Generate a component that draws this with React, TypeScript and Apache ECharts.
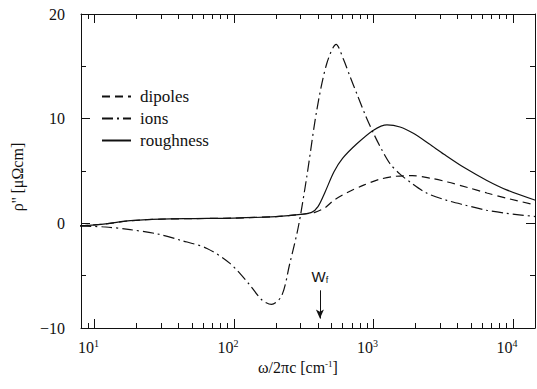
import React, { useEffect, useRef } from "react";
import * as echarts from "echarts";

// ---- data (frequency in cm^-1, rho'' in µΩcm) ----
const dipolesFreq = [7.9, 12, 18, 30, 50, 100, 200, 300, 380, 450, 520, 650, 850, 1100, 1450, 1900, 2600, 3400, 4800, 6500, 9000, 14500];
const dipolesVal = [-0.25, -0.05, 0.25, 0.4, 0.45, 0.5, 0.65, 0.85, 1.05, 1.5, 2.2, 2.95, 3.65, 4.2, 4.5, 4.55, 4.3, 3.95, 3.4, 2.9, 2.4, 1.75];

const ionsFreq = [7.9, 12, 18, 28, 41, 64, 94, 130, 158, 186, 220, 251, 289, 332, 392, 462, 540, 608, 680, 759, 870, 1000, 1150, 1313, 1550, 1828, 2400, 3350, 4500, 6460, 9000, 14500];
const ionsVal = [-0.25, -0.35, -0.6, -1.0, -1.6, -2.4, -3.85, -5.9, -7.3, -7.75, -6.9, -3.85, -0.35, 4.4, 10.8, 15.25, 17.1, 15.7, 14.0, 12.4, 10.4, 8.6, 7.0, 5.7, 4.7, 3.95, 2.9, 2.2, 1.75, 1.25, 0.95, 0.65];

const roughFreq = [7.9, 12, 18, 30, 50, 100, 200, 300, 360, 400, 450, 520, 600, 760, 1000, 1250, 1550, 1930, 2500, 3200, 4500, 6500, 9000, 14500];
const roughVal = [-0.25, -0.05, 0.25, 0.4, 0.45, 0.5, 0.65, 0.85, 1.05, 1.6, 3.0, 4.9, 6.2, 7.6, 8.9, 9.4, 9.2, 8.6, 7.6, 6.6, 5.3, 4.1, 3.2, 2.2];

const xDecades = [1, 2, 3, 4];
const yTicks = [-10, 0, 10, 20];
const wfFreq = [413];
const wfArrowY = [-6.4, -9.1];

const X_MIN = 0.903;
const X_MAX = 4.158;

const serif = "Liberation Serif";
const sans = "Liberation Sans";
const INK = "#111";

export default function App() {
  const ref = useRef<HTMLDivElement>(null);

  useEffect(() => {
    if (!ref.current) return;
    const chart = echarts.init(ref.current, null, { renderer: "svg" });

    const toData = (f: number[], v: number[]) => f.map((x, i) => [Math.log10(x), v[i]]);

    const minorVals: number[] = [];
    for (let n = 0; n <= 4; n++) {
      for (let k = 2; k <= 9; k++) {
        const lv = Math.log10(k * Math.pow(10, n));
        if (lv > X_MIN && lv < X_MAX) minorVals.push(lv);
      }
    }

    const grid = { left: 81, right: 2, top: 14, bottom: 61 };

    const xAxisDef = (gridIndex: number, position: string, values: number[], len: number, withLabel: boolean, withLine: boolean, extra: any = {}) => ({
      type: "value",
      gridIndex,
      position,
      min: X_MIN,
      max: X_MAX,
      axisLine: { show: withLine, onZero: false, lineStyle: { color: INK, width: 1 } },
      axisTick: { show: true, inside: true, length: len, customValues: values, lineStyle: { color: INK, width: 1 } },
      axisLabel: withLabel
        ? {
            show: true,
            customValues: values,
            margin: 10,
            padding: [0, 12, 0, 0],
            fontFamily: serif,
            formatter: (v: number) => `{a|10}{b|${Math.round(v)}}`,
            rich: {
              a: { fontFamily: serif, fontSize: 16, color: INK, lineHeight: 18 },
              b: { fontFamily: serif, fontSize: 10, color: INK, verticalAlign: "top", lineHeight: 10 },
            },
          }
        : { show: false },
      splitLine: { show: false },
      ...extra,
    });

    const yAxisDef = (gridIndex: number, position: string, withLabel: boolean, show = true) => ({
      type: "value",
      gridIndex,
      position,
      show,
      min: yTicks[0],
      max: yTicks[yTicks.length - 1],
      interval: 10,
      axisLine: { show: true, onZero: false, lineStyle: { color: INK, width: 1 } },
      axisTick: { show: true, inside: true, length: 9, lineStyle: { color: INK, width: 1 } },
      minorTick: { show: true, splitNumber: 2, length: 5, lineStyle: { color: INK, width: 1 } },
      axisLabel: withLabel
        ? { show: true, fontFamily: serif, fontSize: 16, color: INK, margin: 16, formatter: (v: number) => (v < 0 ? "\u2212" + Math.abs(v) : String(v)) }
        : { show: false },
      splitLine: { show: false },
      minorSplitLine: { show: false },
    });

    const lineSeries = (name: string, f: number[], v: number[], type: any, extra: any = {}) => ({
      name,
      type: "line",
      xAxisIndex: 0,
      yAxisIndex: 0,
      data: toData(f, v),
      symbol: "none",
      showSymbol: false,
      smooth: 0.3,
      lineStyle: { color: INK, width: 1.2, type },
      itemStyle: { color: INK },
      ...extra,
    });

    chart.setOption({
      animation: false,
      backgroundColor: "#fff",
      textStyle: { fontFamily: serif },
      grid: [grid, grid],
      legend: {
        orient: "vertical",
        left: 101,
        top: 88,
        padding: 0,
        itemWidth: 29,
        itemHeight: 14,
        itemGap: 5,
        itemStyle: { opacity: 0, color: "transparent", borderWidth: 0 },
        textStyle: { fontFamily: serif, fontSize: 17, color: INK, padding: [0, 0, 0, 4] },
        data: ["dipoles", "ions", "roughness"],
      },
      xAxis: [
        xAxisDef(0, "bottom", xDecades, 9, true, true, {
          name: "ω/2πc [cm{s|-1}]",
          nameLocation: "middle",
          nameGap: 31,
          nameTextStyle: {
            fontFamily: serif,
            fontSize: 16,
            color: INK,
            padding: [0, 20, 0, 0],
            rich: { s: { fontFamily: serif, fontSize: 9, color: INK, verticalAlign: "top" } },
          },
        }),
        xAxisDef(0, "bottom", minorVals, 5, false, false),
        xAxisDef(1, "top", xDecades, 9, false, true),
        xAxisDef(1, "top", minorVals, 5, false, false),
      ],
      yAxis: [
        {
          ...yAxisDef(0, "left", true),
          name: "ρ'' [μΩcm]",
          nameLocation: "middle",
          nameGap: 56,
          nameTextStyle: { fontFamily: serif, fontSize: 16, color: INK, padding: [0, 12, 0, 0] },
        },
        yAxisDef(0, "right", false),
        yAxisDef(1, "left", false, false),
      ],
      series: [
        lineSeries("dipoles", dipolesFreq, dipolesVal, [8, 5]),
        lineSeries("ions", ionsFreq, ionsVal, [11, 4, 2, 4], {
          markLine: {
            silent: true,
            symbol: ["none", "arrow"],
            symbolSize: [6, 9],
            lineStyle: { type: "solid", color: INK, width: 1 },
            label: {
              show: true,
              position: "start",
              distance: 6,
              formatter: "W{s|f}",
              fontFamily: sans,
              fontSize: 15,
              color: INK,
              rich: { s: { fontFamily: sans, fontSize: 9, color: INK, verticalAlign: "bottom" } },
            },
            data: [
              [
                { coord: [Math.log10(wfFreq[0]), wfArrowY[0]] },
                { coord: [Math.log10(wfFreq[0]), wfArrowY[1]] },
              ],
            ],
          },
        }),
        lineSeries("roughness", roughFreq, roughVal, "solid"),
      ],
    });

    return () => chart.dispose();
  }, []);

  return <div ref={ref} style={{ position: "absolute", left: 0, top: 0, width: 537, height: 389 }} />;
}
